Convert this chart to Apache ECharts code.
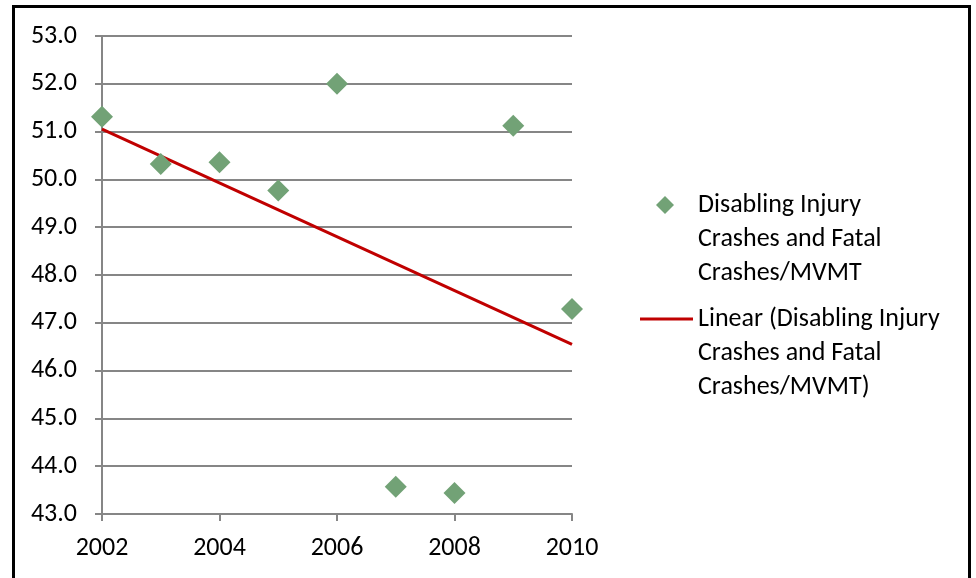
<!DOCTYPE html>
<html>
<head>
<meta charset="utf-8">
<script src="https://cdn.jsdelivr.net/npm/echarts@6/dist/echarts.min.js"></script>
<style>
  html, body { margin: 0; padding: 0; background: #fff; }
  #chart { width: 976px; height: 578px; }
</style>
</head>
<body>
<div id="chart"></div>
<script>
const seriesName = "Disabling Injury Crashes and Fatal Crashes/MVMT";
const trendName  = "Linear (Disabling Injury Crashes and Fatal Crashes/MVMT)";

const years  = [2002, 2003, 2004, 2005, 2006, 2007, 2008, 2009, 2010];
const values = [51.31, 50.32, 50.36, 49.77, 52.0, 43.57, 43.44, 51.12, 47.29];

// trend line end points
const trendYears  = [2002, 2010];
const trendValues = [51.05, 46.55];

// two empty lines on top so the icon sits on the first text line
const legendLines = {
  [seriesName]: "\n\nDisabling Injury\nCrashes and Fatal\nCrashes/MVMT",
  [trendName]: "\n\nLinear (Disabling Injury\nCrashes and Fatal\nCrashes/MVMT)",
};

const font = "Calibri, Carlito, 'Open Sans', sans-serif";
const gray = "#868686";
const fontSize = 26;

let chart = echarts.init(document.getElementById("chart"));

chart.setOption({
  animation: false,
  textStyle: { fontFamily: font },
  graphic: [
    {
      type: "rect",
      shape: { x: 13.5, y: 6.5, width: 956, height: 620 },
      style: { fill: null, stroke: "#000", lineWidth: 3 },
      silent: true,
    },
  ],
  grid: { left: 102, right: 404, top: 36, bottom: 64 },
  legend: [
    {
      data: [seriesName],
      left: 656,
      top: 120,
      padding: 0,
      itemWidth: 18,
      itemHeight: 18,
      icon: "diamond",
      formatter: (name) => legendLines[name],
      textStyle: {
        fontSize: fontSize, color: "#000", lineHeight: 34, padding: [0, 0, 0, 19],
      },
    },
    {
      data: [trendName],
      left: 640,
      top: 234,
      padding: 0,
      itemWidth: 53,
      itemHeight: 3,
      icon: "rect",
      formatter: (name) => legendLines[name],
      textStyle: {
        fontSize: fontSize, color: "#000", lineHeight: 34,
      },
    },
  ],
  xAxis: {
    type: "value",
    min: 2002,
    max: 2010,
    interval: 2,
    axisLine: { lineStyle: { color: gray, width: 2 } },
    axisTick: { show: true, length: 7, lineStyle: { color: gray, width: 2 } },
    axisLabel: { fontSize: fontSize, color: "#000", margin: 21, formatter: (v) => String(v) },
    splitLine: { show: false },
  },
  yAxis: {
    type: "value",
    min: 43,
    max: 53,
    interval: 1,
    axisLine: { show: true, lineStyle: { color: gray, width: 2 } },
    axisTick: { show: true, length: 7, lineStyle: { color: gray, width: 2 } },
    axisLabel: {
      fontSize: fontSize, color: "#000", margin: 25,
      formatter: (v) => v.toFixed(1),
    },
    splitLine: { lineStyle: { color: gray, width: 2 } },
  },
  series: [
    {
      name: trendName,
      type: "line",
      data: trendYears.map((y, i) => [y, trendValues[i]]),
      symbol: "none",
      lineStyle: { color: "#C00000", width: 3 },
      itemStyle: { color: "#C00000" },
      z: 2,
    },
    {
      name: seriesName,
      type: "scatter",
      data: years.map((y, i) => [y, values[i]]),
      symbol: "diamond",
      symbolSize: 22,
      itemStyle: { color: "#72A276", opacity: 1 },
      z: 3,
    },
  ],
});

window.addEventListener("resize", () => chart.resize());
</script>
</body>
</html>
